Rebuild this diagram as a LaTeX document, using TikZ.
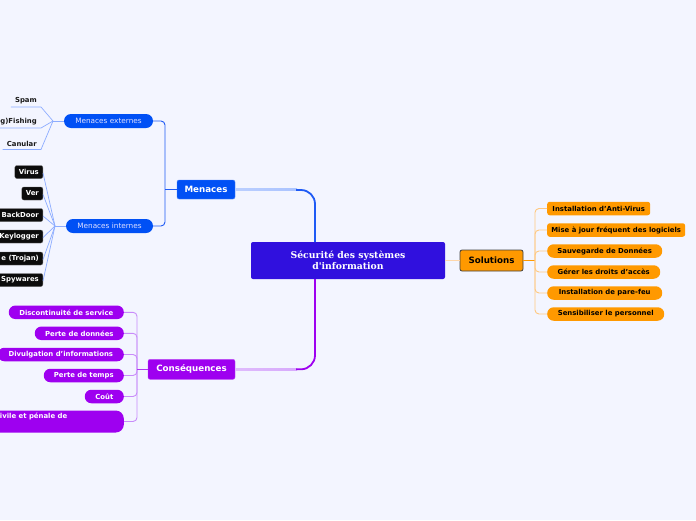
\documentclass[tikz,border=0pt]{standalone}
\usepackage{fontspec}
\setmainfont{DejaVu Sans}
\newfontfamily\serifbold{DejaVu Serif}
\usetikzlibrary{calc}
\definecolor{bg}{RGB}{243,245,255}
\definecolor{centralc}{RGB}{48,16,222}
\definecolor{bluec}{RGB}{0,80,245}
\definecolor{bluedark}{RGB}{30,90,245}
\definecolor{bluelight}{RGB}{140,172,255}
\definecolor{bluepale}{RGB}{170,195,255}
\definecolor{purplec}{RGB}{158,0,240}
\definecolor{purplelight}{RGB}{200,140,250}
\definecolor{purplepale}{RGB}{215,170,252}
\definecolor{orangec}{RGB}{255,153,0}
\definecolor{orangelight}{RGB}{255,200,128}
\definecolor{orangepale}{RGB}{255,215,170}
\definecolor{blackbox}{RGB}{12,12,12}
\tikzset{
  small/.style={font=\fontsize{6.9}{8}\selectfont\bfseries},
  mainbox/.style={rounded corners=2pt, inner sep=0pt, font=\fontsize{8.7}{10}\selectfont\bfseries},
  bluepill/.style={fill=bluec, rounded corners=7pt, minimum height=14pt, inner sep=0pt, text=white!88!blue, font=\fontsize{7.3}{8.5}\selectfont},
  darkbox/.style={small, fill=blackbox, draw=black!60, line width=0.3pt, rounded corners=2pt, text=white, minimum height=13pt, inner xsep=4pt, inner ysep=0pt, anchor=east},
  conpill/.style={small, fill=purplec, rounded corners=6.5pt, text=white, minimum height=13.5pt, inner sep=0pt, anchor=east},
  solrect/.style={small, fill=orangec, rounded corners=2.5pt, text=black, minimum height=13.5pt, inner sep=0pt, anchor=west},
  solpill/.style={small, fill=orangec, rounded corners=6.5pt, text=black, minimum height=13.5pt, inner sep=0pt, anchor=west},
  plain/.style={small, text=black!90, inner xsep=4pt, inner ysep=3pt, anchor=south east},
  bline/.style={draw=bluelight, line width=0.7pt},
  pline/.style={draw=purplelight, line width=0.9pt},
  oline/.style={draw=orangelight, line width=0.9pt},
}
\begin{document}
\begin{tikzpicture}[x=1pt,y=-1pt]
\useasboundingbox (0,0) rectangle (696,520);
\fill[bg] (0,0) rectangle (696,520);

% central
\node[fill=centralc, rounded corners=2pt, minimum width=194pt, minimum height=37pt, inner sep=0pt, text=white, align=center, font=\serifbold\bfseries\fontsize{9.3}{11}\selectfont] (central) at (348,260.5) {Sécurité des systèmes\\d'information};

% main branches
\node[mainbox, fill=bluec, draw=bluec!70!white, line width=0.4pt, minimum width=58pt, minimum height=19pt, text=white] (menaces) at (206,189.5) {Menaces};
\node[mainbox, fill=purplec, draw=purplec!70!white, line width=0.4pt, minimum width=87pt, minimum height=20pt, text=white] (conseq) at (191.5,369.3) {Conséquences};
\node[mainbox, fill=orangec, draw=black!75, line width=0.8pt, minimum width=63pt, minimum height=21pt, text=black] (sol) at (491.5,260.5) {Solutions};

% main connectors
\coordinate (mtop) at (315,242);
\coordinate (mbend) at (297,190);
\coordinate (cbot) at (315,279);
\coordinate (cbend) at (297,369.3);
\shade[left color=bluepale!80!white, right color=bluepale] ($(menaces.east)+(0,-0.7)$) rectangle ($(mbend)+(0,0.7)$);
\draw[draw=bluedark, line width=1.8pt, rounded corners=14pt] ($(mbend)+(-1,0)$) -| (mtop);
\shade[left color=purplepale!80!white, right color=purplepale] ($(conseq.east)+(0,-0.7)$) rectangle ($(cbend)+(0,0.7)$);
\draw[draw=purplec, line width=1.8pt, rounded corners=14pt] ($(cbend)+(-1,0)$) -| (cbot);
\draw[draw=orangepale, line width=1.4pt] (central.east) -- (sol.west);

% Menaces sub-branches
\node[bluepill, minimum width=89pt] (ext) at (108.5,121) {Menaces externes};
\node[bluepill, minimum width=87pt] (int) at (109.5,226) {Menaces internes};
\coordinate (mjoin) at (165,189.5);
\draw[draw=bluedark, line width=0.9pt, rounded corners=4pt] (ext.east) -| (mjoin);
\draw[draw=bluedark, line width=0.9pt, rounded corners=4pt] (int.east) -| (mjoin);
\draw[draw=bluedark, line width=1.2pt] (mjoin) -- (menaces.west);

% Menaces externes children
\coordinate (econv) at (53,121);
\node[plain] (spam) at (41,107) {Spam};
\node[plain] (fish) at (41,128) {(g)Fishing};
\node[plain] (canu) at (41,149.5) {Canular};
\draw[bline] (spam.south west) -- (spam.south east) -- (econv);
\draw[bline] (fish.south west) -- (fish.south east) -- (econv);
\draw[bline] (canu.south west) -- (canu.south east) -- (econv);
\draw[bline] (econv) -- (ext.west);

% Menaces internes children
\coordinate (iconv) at (55,226);
\node[darkbox] (virus) at (43,172) {Virus};
\node[darkbox] (ver) at (43,193.5) {Ver};
\node[darkbox] (back) at (43,215) {BackDoor};
\node[darkbox] (keyl) at (43,236.5) {Keylogger};
\node[darkbox] (troj) at (43,258.5) {e (Trojan)};
\node[darkbox] (spy) at (43,280) {Spywares};
\foreach \n in {virus,ver,back,keyl,troj,spy}{
  \draw[bline] ($(\n.east)+(0,1)$) -- (iconv);
}
\draw[bline] (iconv) -- (int.west);

% Consequences children
\node[conpill, minimum width=115pt] (c1) at (124,312.3) {Discontinuité de service};
\node[conpill, minimum width=89pt] (c2) at (124,333.3) {Perte de données};
\node[conpill, minimum width=126pt] (c3) at (124,354.5) {Divulgation d'informations};
\node[conpill, minimum width=80pt] (c4) at (124,375.5) {Perte de temps};
\node[conpill, minimum width=39pt] (c5) at (124,396.5) {Coût};
\node[conpill, minimum width=150pt, minimum height=22pt, rounded corners=8pt] (c6) at (124,421.5) {};
\node[small, text=white, anchor=east, inner sep=0pt] (c6t) at (67.5,416.5) {ivile et pénale de};
\coordinate (cjoin) at (137,369.3);
\foreach \n in {c1,c2,c3,c4,c5,c6}{
  \draw[pline, rounded corners=4pt] (\n.east) -| (cjoin);
}
\draw[draw=purplec!80!white, line width=0.9pt] (cjoin) -- (conseq.west);

% Solutions children
\node[solrect, minimum width=103pt] (s1) at (547,208.5) {Installation d'Anti-Virus};
\node[solrect, minimum width=138pt] (s2) at (547,230) {Mise à jour fréquent des logiciels};
\node[solpill, minimum width=115pt] (s3) at (547,251) {Sauvegarde de Données};
\node[solpill, minimum width=113pt] (s4) at (547,272) {Gérer les droits d'accès};
\node[solpill, minimum width=115pt] (s5) at (547,293) {Installation de pare-feu};
\node[solpill, minimum width=117pt] (s6) at (547,314) {Sensibiliser le personnel};
\coordinate (sjoin) at (535,260.5);
\draw[draw=orangec, line width=1.2pt] (sol.east) -- (sjoin);
\foreach \n in {s1,s2,s3,s4,s5,s6}{
  \draw[oline, rounded corners=4pt] (sjoin) |- (\n.west);
}
\end{tikzpicture}
\end{document}
